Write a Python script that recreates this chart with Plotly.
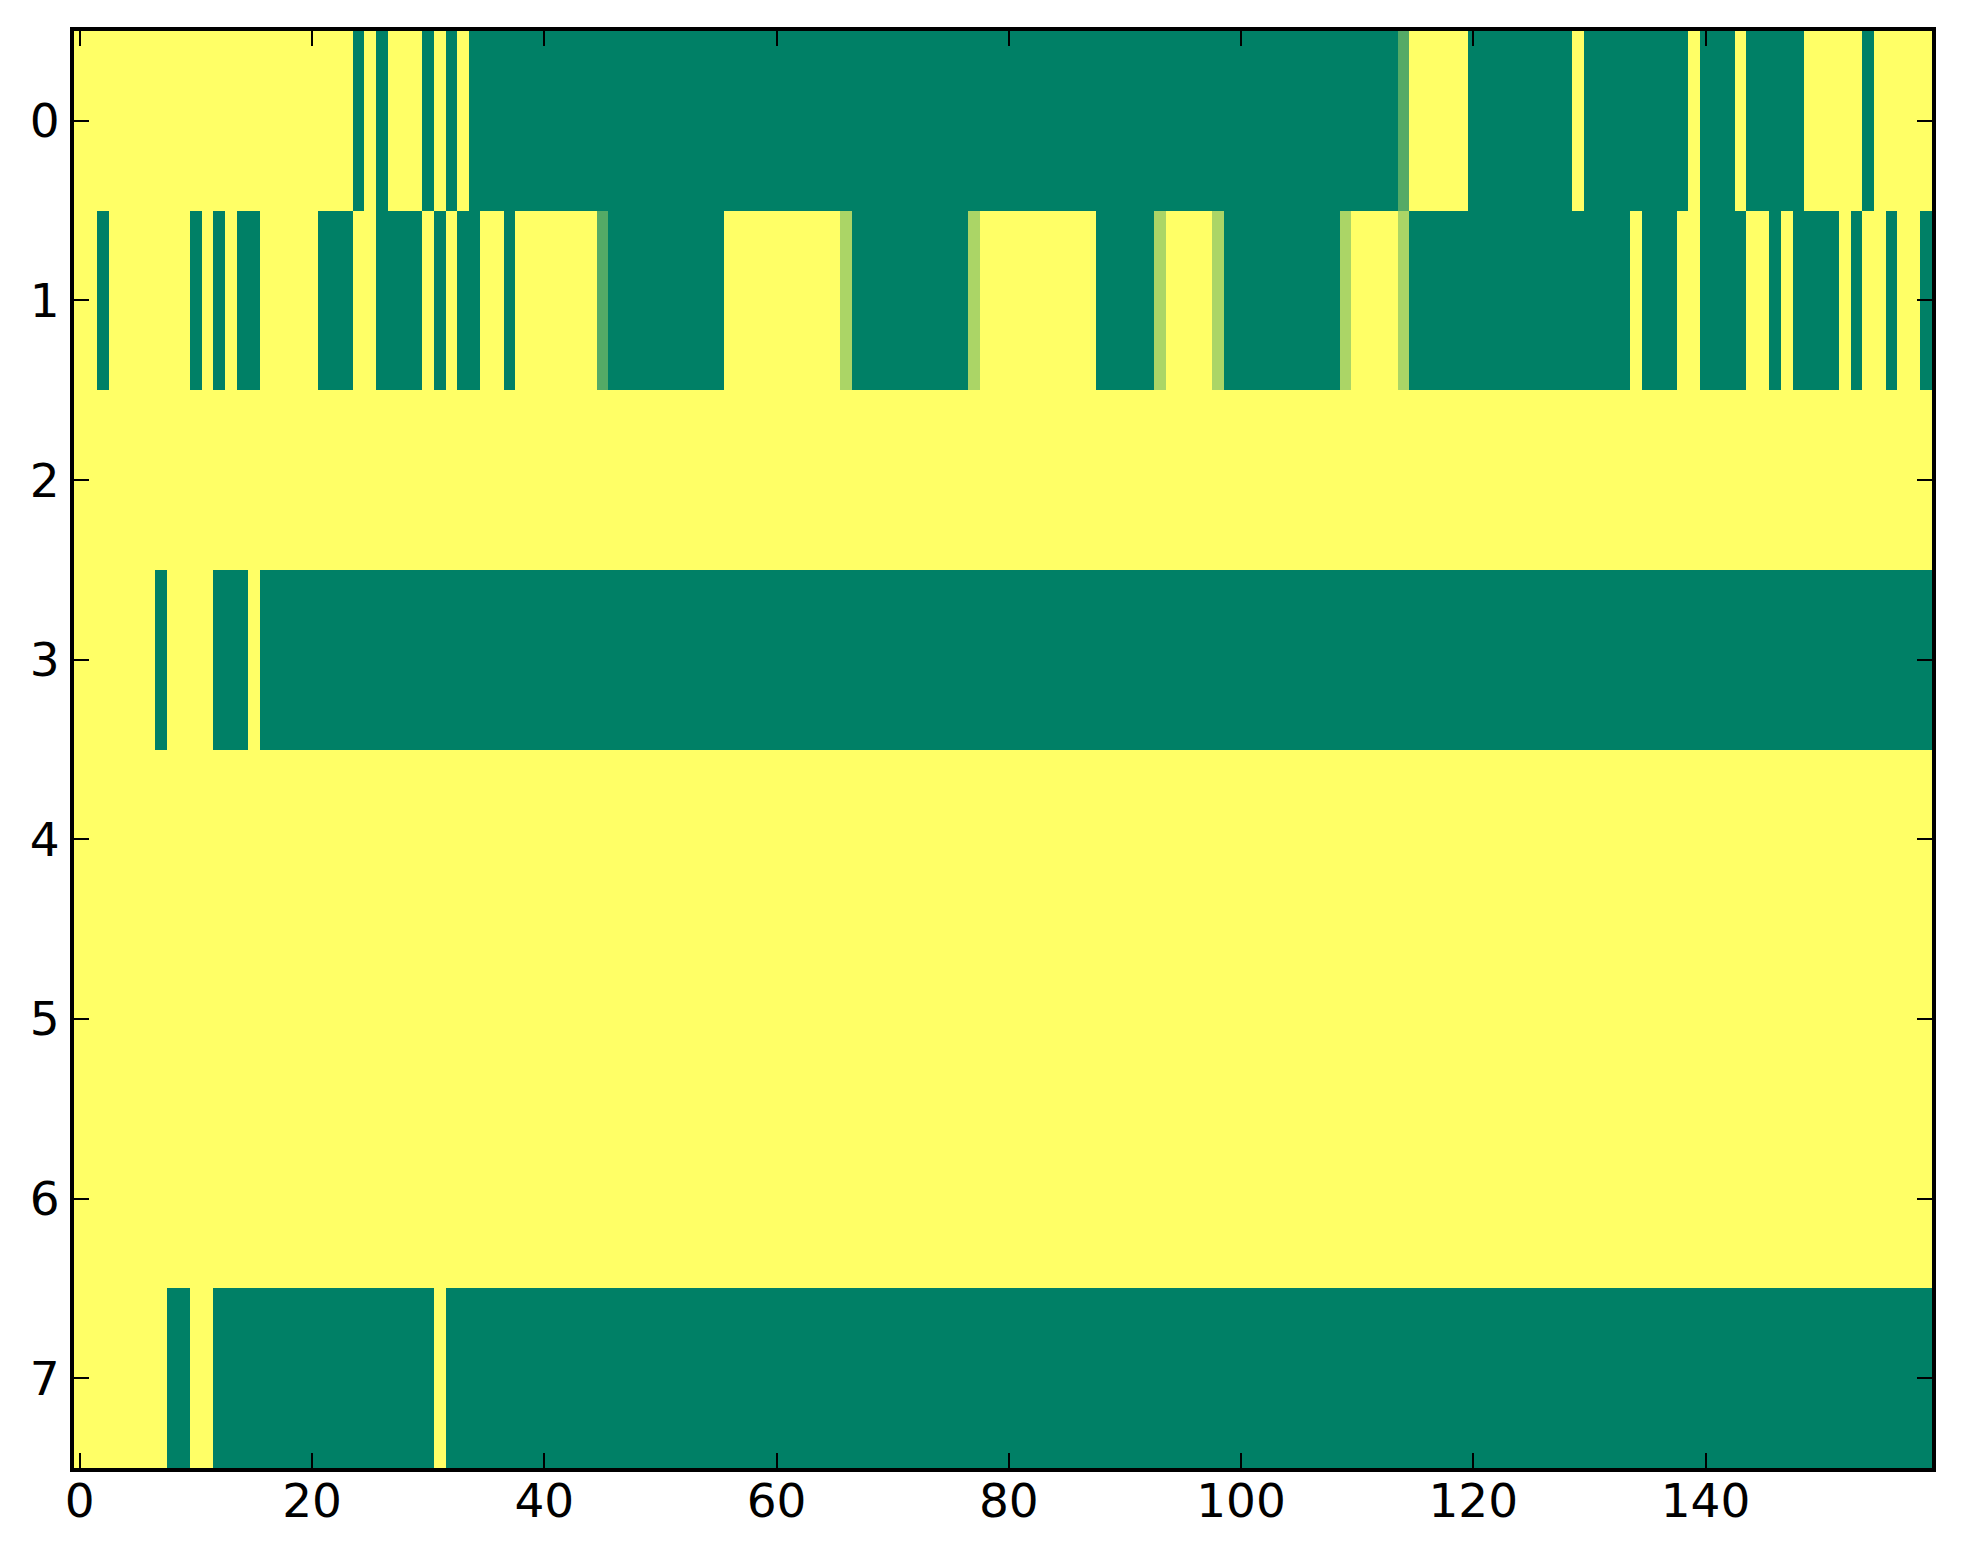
import plotly.graph_objects as go

# column indices and row labels
columns = list(range(160))
rows = [0, 1, 2, 3, 4, 5, 6, 7]
x_ticks = [0, 20, 40, 60, 80, 100, 120, 140]
y_ticks = [0, 1, 2, 3, 4, 5, 6, 7]

row0 = [1, 1, 1, 1, 1, 1, 1, 1, 1, 1,  1, 1, 1, 1, 1, 1, 1, 1, 1, 1,
        1, 1, 1, 1, 0, 1, 0, 1, 1, 1,  0, 1, 0, 1, 0, 0, 0, 0, 0, 0,
        0, 0, 0, 0, 0, 0, 0, 0, 0, 0,  0, 0, 0, 0, 0, 0, 0, 0, 0, 0,
        0, 0, 0, 0, 0, 0, 0, 0, 0, 0,  0, 0, 0, 0, 0, 0, 0, 0, 0, 0,
        0, 0, 0, 0, 0, 0, 0, 0, 0, 0,  0, 0, 0, 0, 0, 0, 0, 0, 0, 0,
        0, 0, 0, 0, 0, 0, 0, 0, 0, 0,  0, 0, 0, 0, 0.33, 1, 1, 1, 1, 1,
        0, 0, 0, 0, 0, 0, 0, 0, 0, 1,  0, 0, 0, 0, 0, 0, 0, 0, 0, 1,
        0, 0, 0, 1, 0, 0, 0, 0, 0, 1,  1, 1, 1, 1, 0, 1, 1, 1, 1, 1]

row1 = [1, 1, 0, 1, 1, 1, 1, 1, 1, 1,  0, 1, 0, 1, 0, 0, 1, 1, 1, 1,
        1, 0, 0, 0, 1, 1, 0, 0, 0, 0,  1, 0, 1, 0, 0, 1, 1, 0, 1, 1,
        1, 1, 1, 1, 1, 0.33, 0, 0, 0, 0,  0, 0, 0, 0, 0, 0, 1, 1, 1, 1,
        1, 1, 1, 1, 1, 1, 0.67, 0, 0, 0,  0, 0, 0, 0, 0, 0, 0, 0.67, 1, 1,
        1, 1, 1, 1, 1, 1, 1, 1, 0, 0,  0, 0, 0, 0.67, 1, 1, 1, 1, 0.67, 0,
        0, 0, 0, 0, 0, 0, 0, 0, 0, 0.67,  1, 1, 1, 1, 0.67, 0, 0, 0, 0, 0,
        0, 0, 0, 0, 0, 0, 0, 0, 0, 0,  0, 0, 0, 0, 1, 0, 0, 0, 1, 1,
        0, 0, 0, 0, 1, 1, 0, 1, 0, 0,  0, 0, 1, 0, 1, 1, 0, 1, 1, 0]

row2 = [1, 1, 1, 1, 1, 1, 1, 1, 1, 1,  1, 1, 1, 1, 1, 1, 1, 1, 1, 1,
        1, 1, 1, 1, 1, 1, 1, 1, 1, 1,  1, 1, 1, 1, 1, 1, 1, 1, 1, 1,
        1, 1, 1, 1, 1, 1, 1, 1, 1, 1,  1, 1, 1, 1, 1, 1, 1, 1, 1, 1,
        1, 1, 1, 1, 1, 1, 1, 1, 1, 1,  1, 1, 1, 1, 1, 1, 1, 1, 1, 1,
        1, 1, 1, 1, 1, 1, 1, 1, 1, 1,  1, 1, 1, 1, 1, 1, 1, 1, 1, 1,
        1, 1, 1, 1, 1, 1, 1, 1, 1, 1,  1, 1, 1, 1, 1, 1, 1, 1, 1, 1,
        1, 1, 1, 1, 1, 1, 1, 1, 1, 1,  1, 1, 1, 1, 1, 1, 1, 1, 1, 1,
        1, 1, 1, 1, 1, 1, 1, 1, 1, 1,  1, 1, 1, 1, 1, 1, 1, 1, 1, 1]

row3 = [1, 1, 1, 1, 1, 1, 1, 0, 1, 1,  1, 1, 0, 0, 0, 1, 0, 0, 0, 0,
        0, 0, 0, 0, 0, 0, 0, 0, 0, 0,  0, 0, 0, 0, 0, 0, 0, 0, 0, 0,
        0, 0, 0, 0, 0, 0, 0, 0, 0, 0,  0, 0, 0, 0, 0, 0, 0, 0, 0, 0,
        0, 0, 0, 0, 0, 0, 0, 0, 0, 0,  0, 0, 0, 0, 0, 0, 0, 0, 0, 0,
        0, 0, 0, 0, 0, 0, 0, 0, 0, 0,  0, 0, 0, 0, 0, 0, 0, 0, 0, 0,
        0, 0, 0, 0, 0, 0, 0, 0, 0, 0,  0, 0, 0, 0, 0, 0, 0, 0, 0, 0,
        0, 0, 0, 0, 0, 0, 0, 0, 0, 0,  0, 0, 0, 0, 0, 0, 0, 0, 0, 0,
        0, 0, 0, 0, 0, 0, 0, 0, 0, 0,  0, 0, 0, 0, 0, 0, 0, 0, 0, 0]

row4 = [1, 1, 1, 1, 1, 1, 1, 1, 1, 1,  1, 1, 1, 1, 1, 1, 1, 1, 1, 1,
        1, 1, 1, 1, 1, 1, 1, 1, 1, 1,  1, 1, 1, 1, 1, 1, 1, 1, 1, 1,
        1, 1, 1, 1, 1, 1, 1, 1, 1, 1,  1, 1, 1, 1, 1, 1, 1, 1, 1, 1,
        1, 1, 1, 1, 1, 1, 1, 1, 1, 1,  1, 1, 1, 1, 1, 1, 1, 1, 1, 1,
        1, 1, 1, 1, 1, 1, 1, 1, 1, 1,  1, 1, 1, 1, 1, 1, 1, 1, 1, 1,
        1, 1, 1, 1, 1, 1, 1, 1, 1, 1,  1, 1, 1, 1, 1, 1, 1, 1, 1, 1,
        1, 1, 1, 1, 1, 1, 1, 1, 1, 1,  1, 1, 1, 1, 1, 1, 1, 1, 1, 1,
        1, 1, 1, 1, 1, 1, 1, 1, 1, 1,  1, 1, 1, 1, 1, 1, 1, 1, 1, 1]

row5 = [1, 1, 1, 1, 1, 1, 1, 1, 1, 1,  1, 1, 1, 1, 1, 1, 1, 1, 1, 1,
        1, 1, 1, 1, 1, 1, 1, 1, 1, 1,  1, 1, 1, 1, 1, 1, 1, 1, 1, 1,
        1, 1, 1, 1, 1, 1, 1, 1, 1, 1,  1, 1, 1, 1, 1, 1, 1, 1, 1, 1,
        1, 1, 1, 1, 1, 1, 1, 1, 1, 1,  1, 1, 1, 1, 1, 1, 1, 1, 1, 1,
        1, 1, 1, 1, 1, 1, 1, 1, 1, 1,  1, 1, 1, 1, 1, 1, 1, 1, 1, 1,
        1, 1, 1, 1, 1, 1, 1, 1, 1, 1,  1, 1, 1, 1, 1, 1, 1, 1, 1, 1,
        1, 1, 1, 1, 1, 1, 1, 1, 1, 1,  1, 1, 1, 1, 1, 1, 1, 1, 1, 1,
        1, 1, 1, 1, 1, 1, 1, 1, 1, 1,  1, 1, 1, 1, 1, 1, 1, 1, 1, 1]

row6 = [1, 1, 1, 1, 1, 1, 1, 1, 1, 1,  1, 1, 1, 1, 1, 1, 1, 1, 1, 1,
        1, 1, 1, 1, 1, 1, 1, 1, 1, 1,  1, 1, 1, 1, 1, 1, 1, 1, 1, 1,
        1, 1, 1, 1, 1, 1, 1, 1, 1, 1,  1, 1, 1, 1, 1, 1, 1, 1, 1, 1,
        1, 1, 1, 1, 1, 1, 1, 1, 1, 1,  1, 1, 1, 1, 1, 1, 1, 1, 1, 1,
        1, 1, 1, 1, 1, 1, 1, 1, 1, 1,  1, 1, 1, 1, 1, 1, 1, 1, 1, 1,
        1, 1, 1, 1, 1, 1, 1, 1, 1, 1,  1, 1, 1, 1, 1, 1, 1, 1, 1, 1,
        1, 1, 1, 1, 1, 1, 1, 1, 1, 1,  1, 1, 1, 1, 1, 1, 1, 1, 1, 1,
        1, 1, 1, 1, 1, 1, 1, 1, 1, 1,  1, 1, 1, 1, 1, 1, 1, 1, 1, 1]

row7 = [1, 1, 1, 1, 1, 1, 1, 1, 0, 0,  1, 1, 0, 0, 0, 0, 0, 0, 0, 0,
        0, 0, 0, 0, 0, 0, 0, 0, 0, 0,  0, 1, 0, 0, 0, 0, 0, 0, 0, 0,
        0, 0, 0, 0, 0, 0, 0, 0, 0, 0,  0, 0, 0, 0, 0, 0, 0, 0, 0, 0,
        0, 0, 0, 0, 0, 0, 0, 0, 0, 0,  0, 0, 0, 0, 0, 0, 0, 0, 0, 0,
        0, 0, 0, 0, 0, 0, 0, 0, 0, 0,  0, 0, 0, 0, 0, 0, 0, 0, 0, 0,
        0, 0, 0, 0, 0, 0, 0, 0, 0, 0,  0, 0, 0, 0, 0, 0, 0, 0, 0, 0,
        0, 0, 0, 0, 0, 0, 0, 0, 0, 0,  0, 0, 0, 0, 0, 0, 0, 0, 0, 0,
        0, 0, 0, 0, 0, 0, 0, 0, 0, 0,  0, 0, 0, 0, 0, 0, 0, 0, 0, 0]

z = [row0, row1, row2, row3, row4, row5, row6, row7]

summer = [[0.0, "#008066"], [1.0, "#ffff66"]]

fig = go.Figure(go.Heatmap(
    z=z, x=columns, y=rows,
    colorscale=summer, zmin=0, zmax=1,
    showscale=False, hoverinfo="skip",
))

axis_common = dict(
    showline=True, linewidth=4, linecolor="black", mirror="ticks",
    ticks="inside", ticklen=15, tickwidth=2, tickcolor="black",
    showgrid=False, zeroline=False, automargin=False,
    tickfont=dict(family="DejaVu Sans", size=47, color="black"),
)

fig.update_xaxes(range=[-0.5, 159.5], tickvals=x_ticks,
                 ticktext=[str(v) for v in x_ticks],
                 ticklabelstandoff=-11, **axis_common)
fig.update_yaxes(range=[7.5, -0.5], tickvals=y_ticks,
                 ticktext=[str(v) for v in y_ticks],
                 ticklabelstandoff=1, **axis_common)

# the page body adds an 8 px margin, so the figure is sized to fit inside it
fig.update_layout(
    template="none",
    width=1947, height=1548,
    margin=dict(l=66, r=23, t=23, b=88, pad=0),
    paper_bgcolor="white", plot_bgcolor="white",
    font=dict(family="DejaVu Sans"),
)

fig.write_html("out.html", config={"displayModeBar": False})
